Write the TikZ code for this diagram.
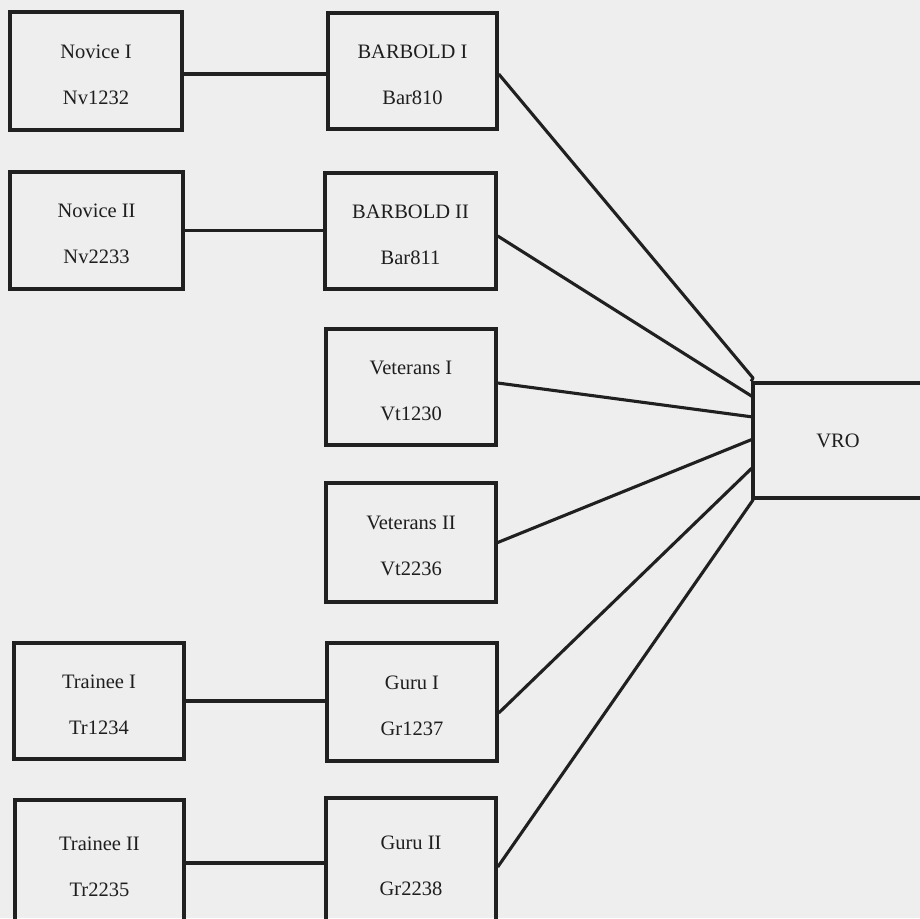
\documentclass[tikz,border=0pt]{standalone}
\usepackage{fontspec}
\setmainfont{Liberation Serif}
\definecolor{ink}{HTML}{202020}
\definecolor{txt}{HTML}{1E1E1E}
\definecolor{paper}{HTML}{EEEEEE}
\newcommand{\unitbox}[7]{%
  \node[unit, minimum width=#4pt, minimum height=#5pt] (#1) at (#2,#3) {};
  \node[lbl, anchor=base] (#1top) at ([yshift=13pt]#1.center) {#6};
  \node[lbl, anchor=base] (#1bot) at ([yshift=-33pt]#1.center) {#7};
}
\begin{document}
\begin{tikzpicture}[x=1pt,y=-1pt,
  unit/.style={draw=ink, line width=3.4pt, rectangle, inner sep=0pt},
  lbl/.style={inner sep=0pt, text=txt, font=\fontsize{20.5}{24}\selectfont},
  link/.style={draw=ink, line width=3.1pt, line join=round}]
\useasboundingbox (0,0) rectangle (920,918);
\fill[paper] (0,0) rectangle (920,918);
\clip (0,0) rectangle (920,918);

% left column
\unitbox{nov1}{96}{71}{172}{118}{Novice I}{Nv1232}
\unitbox{nov2}{96.5}{230.5}{173}{117}{Novice II}{Nv2233}
\unitbox{tr1}{99}{701}{170}{116}{Trainee I}{Tr1234}
\unitbox{tr2}{99.5}{863}{169}{126}{Trainee II}{Tr2235}

% middle column
\unitbox{bar1}{412.5}{71}{169}{116}{BARBOLD I}{Bar810}
\unitbox{bar2}{410.5}{231}{171}{116}{BARBOLD II}{Bar811}
\unitbox{vet1}{411}{387}{170}{116}{Veterans I}{Vt1230}
\unitbox{vet2}{411}{542.5}{170}{119}{Veterans II}{Vt2236}
\unitbox{gur1}{412}{702}{170}{118}{Guru I}{Gr1237}
\unitbox{gur2}{411}{862}{170}{128}{Guru II}{Gr2238}

% VRO
\node[unit, minimum width=170pt, minimum height=115pt] (vro) at (838,440.5) {};
\node[lbl] (vrotxt) at (838,441) {VRO};

\coordinate (v1) at (753,378);
\coordinate (v2) at (753,397);
\coordinate (v3) at (753,417);
\coordinate (v4) at (753,439);
\coordinate (v5) at (753,467);
\coordinate (v6) at (753,500);

% horizontal pair links
\draw[link] ([yshift=-3pt]nov1.east) -- ([yshift=-3pt]nov1.east -| bar1.west);
\draw[link] (nov2.east) -- (nov2.east -| bar2.west);
\draw[link] (tr1.east) -- (tr1.east -| gur1.west);
\draw[link] (tr2.east) -- (tr2.east -| gur2.west);

% links to VRO
\draw[link] ([yshift=-3pt]bar1.east) -- (v1) -- (vro.north west);
\draw[link] ([yshift=-5pt]bar2.east) -- (v2);
\draw[link] ([yshift=4pt]vet1.east) -- (v3);
\draw[link] (vet2.east) -- (v4);
\draw[link] ([yshift=-11pt]gur1.east) -- (v5);
\draw[link] ([yshift=-5pt]gur2.east) -- (v6) -- (vro.south west);
\end{tikzpicture}
\end{document}
